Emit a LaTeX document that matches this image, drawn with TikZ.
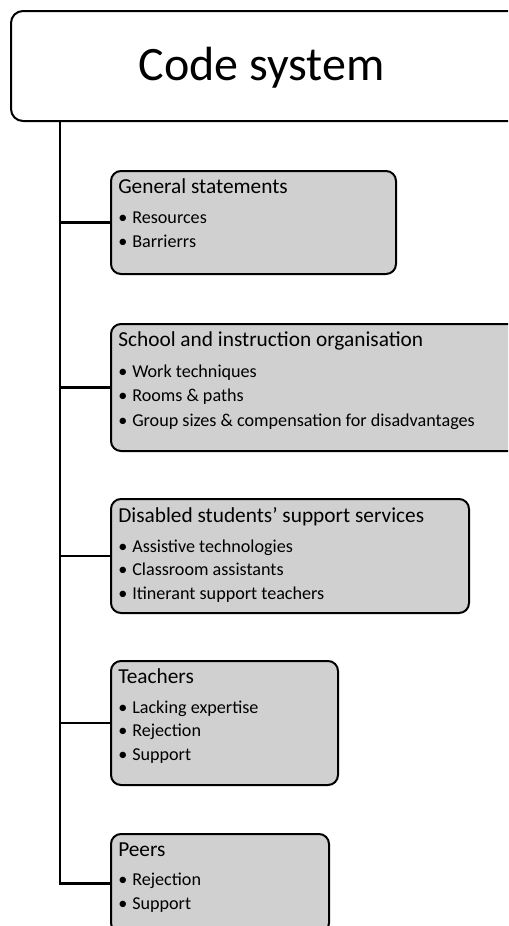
\documentclass[tikz,border=0pt]{standalone}
\usepackage{fontspec}
\setmainfont{Carlito}
\newlength\pxu \setlength\pxu{0.75pt}
\definecolor{boxgray}{RGB}{208,208,208}
\tikzset{
  box/.style 2 args={draw=black, line width=2\pxu, fill=boxgray, rounded corners=10\pxu,
    minimum width=#1\pxu, minimum height=#2\pxu, anchor=north west, inner sep=0pt},
  topbox/.style 2 args={draw=black, line width=2\pxu, fill=white, rounded corners=12\pxu,
    minimum width=#1\pxu, minimum height=#2\pxu, anchor=north west, inner sep=0pt},
  ttl/.style={anchor=base west, inner sep=0pt, font=\fontsize{16}{19}\selectfont},
  itm/.style={anchor=base west, inner sep=0pt, font=\fontsize{13.6}{16}\selectfont},
  link/.style={line width=2.5\pxu},
}
\newcommand{\bul}[1]{\makebox[10.5pt][l]{•}#1}
\begin{document}
\begin{tikzpicture}[x=0.75pt, y=-0.75pt]
\useasboundingbox (0,0) rectangle (508,926);
\clip (0,0) rectangle (508,926);
% top box
\node[topbox={530}{110}] (top) at (10,10) {};
\node[anchor=base, inner sep=0pt, font=\fontsize{36}{40}\selectfont] (toptext) at (261.5,80) {Code system};
\coordinate (trunk) at (60,120);
% boxes
\node[box={285}{103}] (b1) at (110,170) {};
\node[box={410}{127}] (b2) at (110,323) {};
\node[box={358}{114}] (b3) at (110,498) {};
\node[box={227}{124}] (b4) at (110,660) {};
\node[box={218}{99}] (b5) at (110,833) {};
% connectors
\draw[link] (trunk) |- (b5.west);
\draw[link] (trunk |- b1.west) -- (b1.west);
\draw[link] (trunk |- b2.west) -- (b2.west);
\draw[link] (trunk |- b3.west) -- (b3.west);
\draw[link] (trunk |- b4.west) -- (b4.west);
% box 1
\node[ttl] (t1) at (118,193.5) {General statements};
\node[itm] (t1a) at (118,223.5) {\bul{Resources}};
\node[itm] (t1b) at (118,247.5) {\bul{Barrierrs}};
% box 2
\node[ttl] (t2) at (118,346.5) {School and instruction organisation};
\node[itm] (t2a) at (118,377) {\bul{Work techniques}};
\node[itm] (t2b) at (118,401.5) {\bul{Rooms \& paths}};
\node[itm] (t2c) at (118,426) {\bul{Group sizes \& compensation for disadvantages}};
% box 3
\node[ttl] (t3) at (118,522) {Disabled students’ support services};
\node[itm] (t3a) at (118,552) {\bul{Assistive technologies}};
\node[itm] (t3b) at (118,575.5) {\bul{Classroom assistants}};
\node[itm] (t3c) at (118,599) {\bul{Itinerant support teachers}};
% box 4
\node[ttl] (t4) at (118,683.5) {Teachers};
\node[itm] (t4a) at (118,713) {\bul{Lacking expertise}};
\node[itm] (t4b) at (118,736.5) {\bul{Rejection}};
\node[itm] (t4c) at (118,760) {\bul{Support}};
% box 5
\node[ttl] (t5) at (118,856.5) {Peers};
\node[itm] (t5a) at (118,885.5) {\bul{Rejection}};
\node[itm] (t5b) at (118,909) {\bul{Support}};
\end{tikzpicture}
\end{document}
